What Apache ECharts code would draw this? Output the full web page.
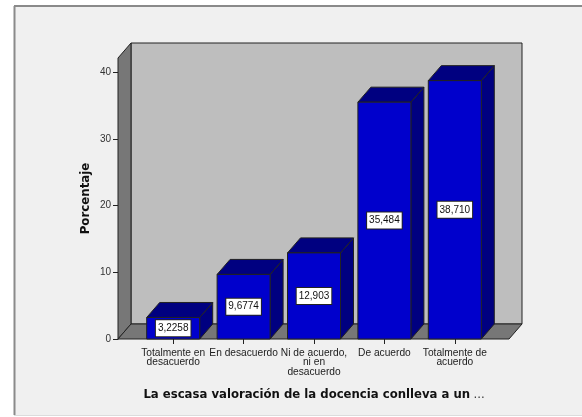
<!DOCTYPE html>
<html><head><meta charset="utf-8">
<style>html,body{margin:0;padding:0;background:#fff}#c{width:582px;height:417px;filter:blur(0.4px)}</style>
<script src="https://cdn.jsdelivr.net/npm/echarts@6/dist/echarts.min.js"></script>
</head><body><div id="c"></div>
<script>
const categories = ['Totalmente en\ndesacuerdo','En desacuerdo','Ni de acuerdo,\nni en\ndesacuerdo','De acuerdo','Totalmente de\nacuerdo'];
const values = [3.2258, 9.6774, 12.903, 35.484, 38.71];
const valueLabels = ['3,2258','9,6774','12,903','35,484','38,710'];
const yTicks = [0,10,20,30,40];
const xTitle = 'La escasa valoración de la docencia conlleva a un';
const xTitleTail = '...';
const yTitle = 'Porcentaje';

const DX = 13, DY = 15, PAD_L = 20, PAD_R = 19, BAR_W = 53;
const INK = '#222';
const chart = echarts.init(document.getElementById('c'), null, {renderer:'canvas'});
function poly(pts, fill, z){
  return {type:'polygon', z2:z||0, shape:{points:pts}, style:{fill, stroke:INK, lineWidth:1}};
}
const line = (x1,y1,x2,y2,stroke,w)=>({type:'line',z:-9,silent:true,shape:{x1,y1,x2,y2},style:{stroke,lineWidth:w}});
chart.setOption({
  animation:false,
  backgroundColor:'#fff',
  textStyle:{fontFamily:'"Liberation Sans",Arial,sans-serif'},
  graphic:[
    {type:'rect',z:-10,silent:true,shape:{x:14,y:6,width:568,height:409},style:{fill:'#f0f0f0'}},
    line(14.5,6,14.5,415,'#8a8a8a',2),
    line(14,6,582,6,'#8a8a8a',2),
    line(14,415.5,582,415.5,'#dcdcdc',1)
  ],
  grid:{left:138,right:92,top:58,bottom:78},
  xAxis:{type:'category',data:categories,
    name:'{b|'+xTitle+'} {n|'+xTitleTail+'}',nameLocation:'middle',nameGap:50,nameMoveOverlap:false,
    nameTextStyle:{rich:{
      b:{fontSize:11.7,fontWeight:'bold',color:'#111',fontFamily:'"DejaVu Sans",sans-serif'},
      n:{fontSize:11.7,color:'#333',fontFamily:'"DejaVu Sans",sans-serif'}}},
    axisLine:{show:false},
    axisTick:{show:true,alignWithLabel:true,length:5,lineStyle:{color:INK}},
    axisLabel:{fontSize:10.2,color:'#222',margin:9,lineHeight:9.7,interval:0}},
  yAxis:{type:'value',min:0,max:42.1,offset:20,
    name:yTitle,nameLocation:'middle',nameGap:26,nameMoveOverlap:false,
    nameTextStyle:{fontSize:11.8,fontWeight:'bold',color:'#111',fontFamily:'"DejaVu Sans",sans-serif'},
    splitLine:{show:false},
    axisLine:{show:true,lineStyle:{color:INK}},
    axisTick:{show:true,length:5,lineStyle:{color:INK},customValues:yTicks},
    axisLabel:{fontSize:10,color:'#333',margin:7,customValues:yTicks}},
  series:[
    {type:'custom',coordinateSystem:'cartesian2d',clip:false,z:1,data:[0],
     renderItem(params,api){
       const r = params.coordSys;
       const L = r.x-PAD_L, R = r.x+r.width+PAD_R, B = api.coord([0,0])[1], T = r.y;
       return {type:'group',children:[
         poly([[L+DX,T-DY],[R+DX,T-DY],[R+DX,B-DY],[L+DX,B-DY]],'#bebebe'),
         poly([[L,T],[L+DX,T-DY],[L+DX,B-DY],[L,B]],'#777777'),
         poly([[L,B],[L+DX,B-DY],[R+DX,B-DY],[R,B]],'#777777')
       ]};
     }},
    {type:'custom',coordinateSystem:'cartesian2d',clip:false,z:2,
     data:values.map((v,i)=>[i,v]),
     encode:{x:0,y:1},
     renderItem(params,api){
       const i = api.value(0), v = api.value(1);
       const p = api.coord([i,v]), b = api.coord([i,0]);
       const l = p[0]-BAR_W/2, r = p[0]+BAR_W/2, t = p[1], B = b[1];
       return {type:'group',children:[
         poly([[r,t],[r+DX,t-DY],[r+DX,B-DY],[r,B]],'#000080'),
         poly([[l,t],[l+DX,t-DY],[r+DX,t-DY],[r,t]],'#000080'),
         poly([[l,t],[r,t],[r,B],[l,B]],'#0000cc'),
         {type:'text',z2:5,style:{text:valueLabels[i],x:p[0],y:(t+B)/2,align:'center',verticalAlign:'middle',
           fontSize:10,fontFamily:'"Liberation Sans",Arial,sans-serif',fill:'#111',
           backgroundColor:'#fff',borderColor:'#222',borderWidth:1,padding:[3,2,3,2]}}
       ]};
     }}
  ]
});
</script></body></html>
